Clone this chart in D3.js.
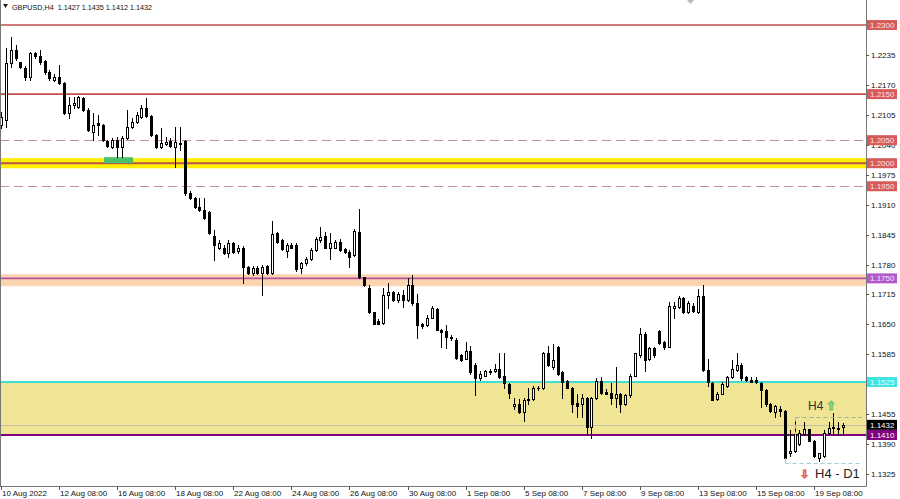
<!DOCTYPE html>
<html><head><meta charset="utf-8">
<script src="https://cdn.jsdelivr.net/npm/d3@7"></script>
<style>body{margin:0;background:#fff;} svg{display:block;font-family:'Liberation Sans',Arial,sans-serif;}</style>
</head><body><svg id="c" width="900" height="499"></svg>
<script>
const symbolTitle = "GBPUSD,H4  1.1427 1.1435 1.1412 1.1432";
const timeLabels = ["10 Aug 2022","12 Aug 08:00","16 Aug 08:00","18 Aug 08:00","22 Aug 08:00","24 Aug 08:00","26 Aug 08:00","30 Aug 08:00","1 Sep 08:00","5 Sep 08:00","7 Sep 08:00","9 Sep 08:00","13 Sep 08:00","15 Sep 08:00","19 Sep 08:00"];
const labelStep = 12;
const open = [1.2083,1.2093,1.2217,1.2246,1.2220,1.2207,1.2187,1.2239,1.2233,1.2222,
1.2198,1.2180,1.2187,1.2174,1.2109,1.2126,1.2122,1.2141,1.2115,1.2067,
1.2087,1.2083,1.2048,1.2035,1.2050,1.2035,1.2054,1.2078,1.2089,1.2100,
1.2120,1.2102,1.2061,1.2035,1.2041,1.2048,1.2035,1.2041,1.2048,1.1935,
1.1924,1.1904,1.1898,1.1893,1.1843,1.1817,1.1817,1.1804,1.1826,1.1809,
1.1817,1.1774,1.1761,1.1772,1.1761,1.1776,1.1761,1.1848,1.1833,1.1809,
1.1822,1.1822,1.1772,1.1783,1.1791,1.1811,1.1833,1.1841,1.1817,1.1817,
1.1830,1.1813,1.1807,1.1800,1.1850,1.1752,1.1730,1.1676,1.1657,1.1654,
1.1713,1.1720,1.1702,1.1713,1.1702,1.1735,1.1696,1.1650,1.1648,1.1665,
1.1683,1.1639,1.1635,1.1622,1.1617,1.1583,1.1576,1.1593,1.1563,1.1533,
1.1539,1.1550,1.1548,1.1554,1.1537,1.1520,1.1474,1.1478,1.1459,1.1485,
1.1489,1.1513,1.1511,1.1587,1.1557,1.1600,1.1546,1.1528,1.1513,1.1480,
1.1478,1.1491,1.1428,1.1491,1.1528,1.1504,1.1502,1.1491,1.1500,1.1478,
1.1496,1.1539,1.1583,1.1630,1.1574,1.1598,1.1635,1.1611,1.1602,1.1685,
1.1687,1.1707,1.1676,1.1691,1.1676,1.1711,1.1552,1.1522,1.1489,1.1500,
1.1517,1.1535,1.1552,1.1563,1.1535,1.1530,1.1530,1.1522,1.1507,1.1478,
1.1459,1.1467,1.1463,1.1370,1.1376,1.1391,1.1413,1.1422,1.1398,1.1361,
1.1365,1.1415,1.1428,1.1426,1.1427];
const high = [1.2111,1.2250,1.2274,1.2257,1.2220,1.2211,1.2241,1.2241,1.2246,1.2224,
1.2202,1.2193,1.2213,1.2176,1.2143,1.2143,1.2146,1.2143,1.2120,1.2109,
1.2104,1.2085,1.2050,1.2054,1.2057,1.2059,1.2115,1.2098,1.2111,1.2126,
1.2141,1.2104,1.2063,1.2076,1.2057,1.2054,1.2078,1.2078,1.2050,1.1939,
1.1926,1.1924,1.1924,1.1896,1.1854,1.1833,1.1822,1.1833,1.1830,1.1822,
1.1820,1.1776,1.1776,1.1776,1.1778,1.1780,1.1874,1.1850,1.1835,1.1826,
1.1826,1.1826,1.1785,1.1796,1.1815,1.1839,1.1861,1.1850,1.1848,1.1833,
1.1835,1.1817,1.1811,1.1857,1.1900,1.1754,1.1735,1.1678,1.1661,1.1730,
1.1739,1.1722,1.1720,1.1724,1.1750,1.1757,1.1717,1.1654,1.1670,1.1689,
1.1685,1.1641,1.1648,1.1626,1.1620,1.1585,1.1611,1.1604,1.1567,1.1548,
1.1552,1.1554,1.1565,1.1587,1.1587,1.1522,1.1491,1.1489,1.1491,1.1513,
1.1517,1.1517,1.1591,1.1604,1.1607,1.1604,1.1548,1.1530,1.1515,1.1500,
1.1500,1.1493,1.1493,1.1533,1.1535,1.1509,1.1522,1.1557,1.1502,1.1500,
1.1543,1.1589,1.1643,1.1633,1.1602,1.1602,1.1637,1.1613,1.1698,1.1698,
1.1711,1.1709,1.1700,1.1696,1.1728,1.1735,1.1576,1.1524,1.1504,1.1524,
1.1539,1.1572,1.1587,1.1567,1.1539,1.1535,1.1535,1.1526,1.1509,1.1480,
1.1476,1.1472,1.1465,1.1420,1.1441,1.1420,1.1439,1.1424,1.1400,1.1372,
1.1420,1.1439,1.1457,1.1439,1.1435];
const low = [1.2076,1.2078,1.2209,1.2224,1.2207,1.2180,1.2180,1.2228,1.2215,1.2193,
1.2180,1.2178,1.2172,1.2107,1.2098,1.2120,1.2120,1.2113,1.2070,1.2050,
1.2061,1.2048,1.2035,1.2033,1.2013,1.2013,1.2052,1.2076,1.2087,1.2098,
1.2100,1.2059,1.2033,1.2033,1.2039,1.2035,1.1991,1.2028,1.1930,1.1922,
1.1902,1.1896,1.1878,1.1846,1.1789,1.1813,1.1802,1.1796,1.1804,1.1804,
1.1741,1.1759,1.1757,1.1759,1.1713,1.1759,1.1759,1.1826,1.1811,1.1796,
1.1815,1.1767,1.1761,1.1780,1.1789,1.1809,1.1830,1.1815,1.1793,1.1815,
1.1809,1.1804,1.1774,1.1798,1.1750,1.1733,1.1674,1.1650,1.1650,1.1652,
1.1685,1.1700,1.1698,1.1687,1.1700,1.1693,1.1620,1.1643,1.1646,1.1663,
1.1637,1.1600,1.1598,1.1617,1.1576,1.1570,1.1574,1.1543,1.1496,1.1530,
1.1537,1.1543,1.1546,1.1533,1.1513,1.1491,1.1467,1.1457,1.1441,1.1478,
1.1487,1.1507,1.1509,1.1559,1.1554,1.1541,1.1491,1.1511,1.1459,1.1448,
1.1448,1.1409,1.1404,1.1489,1.1500,1.1498,1.1478,1.1470,1.1459,1.1476,
1.1493,1.1537,1.1580,1.1550,1.1572,1.1580,1.1607,1.1596,1.1600,1.1665,
1.1685,1.1674,1.1674,1.1678,1.1674,1.1550,1.1517,1.1485,1.1487,1.1498,
1.1515,1.1533,1.1550,1.1530,1.1528,1.1524,1.1522,1.1470,1.1474,1.1461,
1.1450,1.1452,1.1359,1.1365,1.1374,1.1389,1.1411,1.1396,1.1363,1.1354,
1.1363,1.1413,1.1409,1.1409,1.1412];
const close = [1.2100,1.2217,1.2246,1.2228,1.2209,1.2187,1.2239,1.2233,1.2220,1.2198,
1.2185,1.2187,1.2174,1.2109,1.2126,1.2130,1.2143,1.2115,1.2072,1.2083,
1.2083,1.2050,1.2037,1.2050,1.2035,1.2054,1.2078,1.2089,1.2104,1.2120,
1.2102,1.2061,1.2035,1.2043,1.2046,1.2037,1.2046,1.2043,1.1935,1.1924,
1.1904,1.1898,1.1880,1.1848,1.1822,1.1826,1.1804,1.1826,1.1807,1.1815,
1.1774,1.1761,1.1772,1.1761,1.1774,1.1761,1.1846,1.1828,1.1813,1.1822,
1.1817,1.1770,1.1783,1.1791,1.1811,1.1835,1.1839,1.1817,1.1826,1.1828,
1.1811,1.1807,1.1796,1.1852,1.1752,1.1735,1.1676,1.1652,1.1652,1.1713,
1.1720,1.1702,1.1715,1.1702,1.1735,1.1696,1.1648,1.1646,1.1665,1.1685,
1.1639,1.1633,1.1622,1.1620,1.1578,1.1572,1.1593,1.1546,1.1533,1.1543,
1.1548,1.1546,1.1554,1.1535,1.1522,1.1502,1.1478,1.1459,1.1487,1.1489,
1.1513,1.1511,1.1587,1.1561,1.1572,1.1543,1.1524,1.1513,1.1478,1.1474,
1.1491,1.1428,1.1491,1.1528,1.1502,1.1500,1.1491,1.1500,1.1478,1.1496,
1.1539,1.1587,1.1630,1.1572,1.1598,1.1583,1.1609,1.1600,1.1689,1.1689,
1.1707,1.1676,1.1696,1.1680,1.1711,1.1552,1.1524,1.1487,1.1500,1.1520,
1.1535,1.1554,1.1563,1.1533,1.1530,1.1526,1.1524,1.1507,1.1478,1.1463,
1.1472,1.1463,1.1361,1.1376,1.1413,1.1415,1.1422,1.1398,1.1365,1.1370,
1.1415,1.1426,1.1426,1.1424,1.1432];
const priceTicks = [1.2235,1.2170,1.2105,1.2040,1.1975,1.1910,1.1845,1.1780,1.1715,1.1650,1.1585,1.1455,1.1390,1.1325];
const solidLevels = [1.2300, 1.2150];
const dashedLevels = [1.2050, 1.1950];
const yellowBand = [1.2011, 1.1989, 1.2000];
const peachBand = [1.1759, 1.1733, 1.1750];
const supportZone = [1.1525, 1.1410];
const bidPrice = 1.1432;
const greenBox = {from: 21.3, to: 27.3, top: 1.2013, bottom: 1.2000};
const h4Box = {from: 164, top: 1.1450, bottom: 1.1410};
const d1Line = {from: 162, price: 1.1350, low: 1.1361};
const levelTags = [
  {p:1.2300, t:"1.2300", bg:"#d65c5c", fg:"#fbe3e3"},
  {p:1.2150, t:"1.2150", bg:"#d65c5c", fg:"#fbe3e3"},
  {p:1.2050, t:"1.2050", bg:"#d65c5c", fg:"#fbe3e3"},
  {p:1.2000, t:"1.2000", bg:"#d65c5c", fg:"#fbe3e3"},
  {p:1.1950, t:"1.1950", bg:"#d65c5c", fg:"#fbe3e3"},
  {p:1.1750, t:"1.1750", bg:"#b35acb", fg:"#f5e6fa"},
  {p:1.1525, t:"1.1525", bg:"#3fe4e4", fg:"#e8ffff"},
  {p:1.1432, t:"1.1432", bg:"#000000", fg:"#ffffff"},
  {p:1.1410, t:"1.1410", bg:"#800080", fg:"#ffffff"}
];

const W = 900, H = 499, axisX = 866, axisY = 486;
const svg = d3.select('#c');
const x = d3.scaleLinear().domain([0, 168]).range([1, 814]);
const y = d3.scaleLinear().domain([1.1410, 1.2300]).range([435, 25]);
const py = p => Math.round(y(p));

svg.append('rect').attr('width', W).attr('height', H).attr('fill', '#fff');

// zones
svg.append('rect').attr('x', 0).attr('width', axisX).attr('y', y(supportZone[0])).attr('height', y(supportZone[1]) - y(supportZone[0])).attr('fill', '#f0e594');
svg.append('rect').attr('x', 0).attr('width', axisX).attr('y', y(yellowBand[0])).attr('height', y(yellowBand[1]) - y(yellowBand[0])).attr('fill', '#fff000');
svg.append('rect').attr('x', 0).attr('width', axisX).attr('y', y(peachBand[0])).attr('height', y(peachBand[1]) - y(peachBand[0])).attr('fill', '#fbd4b2');

// bid line
svg.append('line').attr('x1', 0).attr('x2', axisX).attr('y1', py(bidPrice) + 0.5).attr('y2', py(bidPrice) + 0.5).attr('stroke', '#c8c0a8').attr('stroke-width', 1);

// dashed levels
svg.selectAll('line.dl').data(dashedLevels).join('line').attr('class', 'dl')
  .attr('x1', 0).attr('x2', axisX).attr('y1', d => py(d) + 0.5).attr('y2', d => py(d) + 0.5)
  .attr('stroke', '#c49090').attr('stroke-width', 1).attr('stroke-dasharray', '9,5');

// solid levels
svg.selectAll('line.sl').data(solidLevels).join('line').attr('class', 'sl')
  .attr('x1', 0).attr('x2', axisX).attr('y1', d => y(d)).attr('y2', d => y(d))
  .attr('stroke', '#c0504d').attr('stroke-width', 1.6);
svg.append('line').attr('x1', 0).attr('x2', axisX).attr('y1', y(yellowBand[2])).attr('y2', y(yellowBand[2])).attr('stroke', '#c0504d').attr('stroke-width', 2);
svg.append('line').attr('x1', 0).attr('x2', axisX).attr('y1', y(peachBand[2])).attr('y2', y(peachBand[2])).attr('stroke', '#b8509a').attr('stroke-width', 1.6);
svg.append('line').attr('x1', 0).attr('x2', axisX).attr('y1', y(supportZone[0])).attr('y2', y(supportZone[0])).attr('stroke', '#40e0d0').attr('stroke-width', 2);
svg.append('line').attr('x1', 0).attr('x2', axisX).attr('y1', y(supportZone[1])).attr('y2', y(supportZone[1])).attr('stroke', '#800080').attr('stroke-width', 2);

// green box
svg.append('rect').attr('x', x(greenBox.from)).attr('width', x(greenBox.to) - x(greenBox.from))
  .attr('y', y(greenBox.top)).attr('height', y(greenBox.bottom) - y(greenBox.top)).attr('fill', '#4cbf6a');

// candles
const candles = open.map((o, i) => ({i, o, h: high[i], l: low[i], c: close[i]}));
const cg = svg.append('g');
cg.selectAll('line.wick').data(candles).join('line').attr('class', 'wick')
  .attr('x1', d => Math.round(x(d.i)) + 0.5).attr('x2', d => Math.round(x(d.i)) + 0.5)
  .attr('y1', d => py(d.h)).attr('y2', d => py(d.l) + 1)
  .attr('stroke', '#000').attr('stroke-width', 1);
cg.selectAll('rect.body').data(candles).join('rect').attr('class', 'body')
  .each(function(d) {
    const cx = Math.round(x(d.i));
    const top = py(Math.max(d.o, d.c)), bot = py(Math.min(d.o, d.c));
    const sel = d3.select(this);
    if (d.c >= d.o) {
      sel.attr('x', cx - 0.5).attr('width', 2).attr('y', top + 0.5).attr('height', Math.max(0, bot - top))
        .attr('fill', '#fff').attr('stroke', '#000').attr('stroke-width', 1);
    } else {
      sel.attr('x', cx - 1).attr('width', 3).attr('y', top).attr('height', Math.max(1, bot - top + 1))
        .attr('fill', '#000');
    }
  });

// annotations
const ax1 = Math.round(x(h4Box.from)) + 0.5;
svg.append('line').attr('x1', ax1).attr('x2', 862).attr('y1', py(h4Box.top) + 0.5).attr('y2', py(h4Box.top) + 0.5)
  .attr('stroke', '#98b898').attr('stroke-dasharray', '4,3');
svg.append('line').attr('x1', ax1).attr('x2', ax1).attr('y1', py(h4Box.top) + 0.5).attr('y2', py(h4Box.bottom))
  .attr('stroke', '#98b898').attr('stroke-dasharray', '4,3');
const bx1 = Math.round(x(d1Line.from)) + 0.5;
svg.append('line').attr('x1', bx1).attr('x2', 862).attr('y1', py(d1Line.price) + 0.5).attr('y2', py(d1Line.price) + 0.5)
  .attr('stroke', '#9ccfd8').attr('stroke-dasharray', '4,3');
svg.append('line').attr('x1', bx1).attr('x2', bx1).attr('y1', py(d1Line.low)).attr('y2', py(d1Line.price) + 0.5)
  .attr('stroke', '#9ccfd8');
svg.append('text').attr('x', 808).attr('y', 410).attr('font-size', 12).attr('fill', '#333').text('H4');
svg.append('text').attr('x', 826).attr('y', 410).attr('font-size', 12).attr('fill', '#fff').attr('stroke', '#7cc060').attr('stroke-width', 0.9).text('⇧');
svg.append('text').attr('x', 800).attr('y', 478).attr('font-size', 11).attr('fill', '#fff').attr('stroke', '#e06060').attr('stroke-width', 0.9).text('⇩');
svg.append('text').attr('x', 815).attr('y', 478).attr('font-size', 13).attr('fill', '#222').text('H4 - D1');

// frame and axes
svg.append('line').attr('x1', 0.5).attr('x2', 0.5).attr('y1', 0).attr('y2', axisY).attr('stroke', '#777');
svg.append('line').attr('x1', axisX + 0.5).attr('x2', axisX + 0.5).attr('y1', 0).attr('y2', axisY + 0.5).attr('stroke', '#777');
svg.append('line').attr('x1', 0).attr('x2', axisX + 0.5).attr('y1', axisY + 0.5).attr('y2', axisY + 0.5).attr('stroke', '#777');

const xt = timeLabels.map((t, k) => ({t, i: k * labelStep}));
svg.selectAll('line.xt').data(xt).join('line').attr('class', 'xt')
  .attr('x1', d => Math.round(x(d.i)) + 0.5).attr('x2', d => Math.round(x(d.i)) + 0.5)
  .attr('y1', axisY).attr('y2', axisY + 4).attr('stroke', '#555');
svg.selectAll('text.xt').data(xt).join('text').attr('class', 'xt')
  .attr('x', d => Math.round(x(d.i)) + 1).attr('y', 496).attr('font-size', 8).attr('fill', '#111').text(d => d.t);

svg.selectAll('line.yt').data(priceTicks).join('line').attr('class', 'yt')
  .attr('x1', axisX).attr('x2', axisX + 3).attr('y1', d => py(d) + 0.5).attr('y2', d => py(d) + 0.5).attr('stroke', '#555');
svg.selectAll('text.yt').data(priceTicks).join('text').attr('class', 'yt')
  .attr('x', 871).attr('y', d => y(d) + 3).attr('font-size', 8).attr('fill', '#111').text(d => d.toFixed(4));

const tags = svg.selectAll('g.tag').data(levelTags).join('g').attr('class', 'tag');
tags.append('rect').attr('x', 867).attr('width', 30).attr('y', d => y(d.p) - 5).attr('height', 10).attr('fill', d => d.bg);
tags.append('text').attr('x', 870).attr('y', d => y(d.p) + 3).attr('font-size', 8).attr('fill', d => d.fg).text(d => d.t);

// header
svg.append('path').attr('d', 'M3,4 L8,4 L5.5,8 Z').attr('fill', '#222');
svg.append('text').attr('x', 12).attr('y', 10).attr('font-size', 8).attr('fill', '#111')
  .attr('xml:space', 'preserve').attr('textLength', 140).attr('lengthAdjust', 'spacingAndGlyphs').text(symbolTitle);
svg.append('path').attr('d', 'M687,0 L694,0 L690.5,4 Z').attr('fill', '#bbb');
</script></body></html>
